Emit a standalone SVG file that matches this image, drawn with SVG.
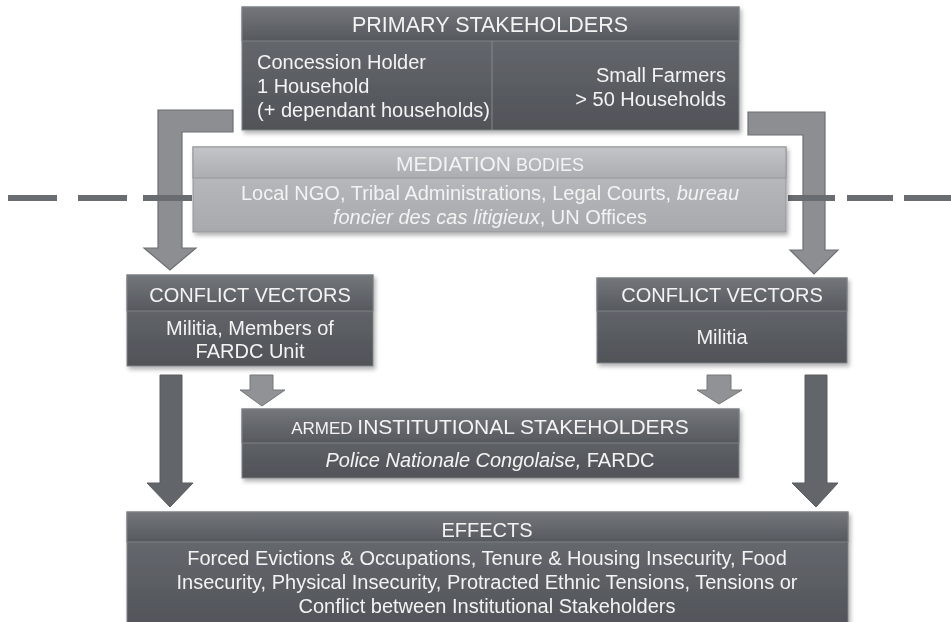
<svg xmlns="http://www.w3.org/2000/svg" width="951" height="622" viewBox="0 0 951 622">
<defs>
<linearGradient id="dh" x1="0" y1="0" x2="0" y2="1"><stop offset="0" stop-color="#73767b"/><stop offset="1" stop-color="#56595e"/></linearGradient>
<linearGradient id="db" x1="0" y1="0" x2="0" y2="1"><stop offset="0" stop-color="#6b6e73"/><stop offset="1" stop-color="#505358"/></linearGradient>
<linearGradient id="lh" x1="0" y1="0" x2="0" y2="1"><stop offset="0" stop-color="#c3c4c7"/><stop offset="1" stop-color="#abadb0"/></linearGradient>
<linearGradient id="lb" x1="0" y1="0" x2="0" y2="1"><stop offset="0" stop-color="#bdbfc2"/><stop offset="1" stop-color="#a7a9ac"/></linearGradient>
<filter id="sh" x="-5%" y="-5%" width="110%" height="120%"><feDropShadow dx="2" dy="3" stdDeviation="2" flood-color="#000" flood-opacity="0.3"/></filter>
</defs>
<style>
text{font-family:"Liberation Sans",Arial,sans-serif;fill:#f3f3f3}
.b{font-size:20px}
.h{font-size:20px}
.c{text-anchor:middle}
.dh{fill:url(#dh);stroke:#7e8186;stroke-width:1}
.db{fill:url(#db);stroke:#7e8186;stroke-width:1}
.lh{fill:url(#lh);stroke:#94969a;stroke-width:1}
.lb{fill:url(#lb);stroke:#94969a;stroke-width:1}
.bent{fill:#8c8e92;stroke:#6c6f73;stroke-width:1.2}
.small{fill:#909296;stroke:#74777b;stroke-width:1}
.big{fill:#626569;stroke:#5a5d61;stroke-width:1}
.dash{stroke:#696c71;stroke-width:6}
</style>
<g id="connectors">
<polygon class="bent" points="233,110 158,110 158,248 144,248 170,270 196,248 182,248 182,132 233,132"/>
<polygon class="bent" points="748,112 825,112 825,250 838,250 814,274 790,250 803,250 803,135 748,135"/>
<polygon class="small" points="250,375 273,375 273,390 285,390 262,406 240,390 250,390"/>
<polygon class="small" points="707,375 731,375 731,390 742,390 719,404 697,390 707,390"/>
<polygon class="big" points="160,375 182,375 182,483 193,483 170,507 147,483 160,483"/>
<polygon class="big" points="805,375 827,375 827,483 838,483 816,507 792,483 805,483"/>
</g>
<g id="divider-line">
<line class="dash" x1="8" y1="198" x2="57" y2="198"/>
<line class="dash" x1="78" y1="198" x2="127" y2="198"/>
<line class="dash" x1="143" y1="198" x2="192" y2="198"/>
<line class="dash" x1="788" y1="198" x2="835" y2="198"/>
<line class="dash" x1="847" y1="198" x2="893" y2="198"/>
<line class="dash" x1="904" y1="198" x2="951" y2="198"/>
</g>
<g id="primary" filter="url(#sh)">
<rect class="db" x="242" y="7" width="497" height="123"/>
<rect class="dh" x="242" y="7" width="497" height="34"/>
<line x1="492" y1="41" x2="492" y2="130" stroke="#85888c" stroke-width="1"/>
<text class="c" x="490" y="32" font-size="21.5">PRIMARY STAKEHOLDERS</text>
<text class="b" x="257" y="69">Concession Holder</text>
<text class="b" x="257" y="93">1 Household</text>
<text class="b" x="257" y="117">(+ dependant households)</text>
<text class="b" x="726" y="82" text-anchor="end">Small Farmers</text>
<text class="b" x="726" y="106" text-anchor="end">&gt; 50 Households</text>
</g>
<g id="mediation" filter="url(#sh)">
<rect class="lb" x="193" y="147" width="593" height="85"/>
<rect class="lh" x="193" y="147" width="593" height="31"/>
<text class="c" x="490" y="171"><tspan font-size="21">MEDIATION</tspan><tspan font-size="18"> BODIES</tspan></text>
<text class="b c" x="490" y="200">Local NGO, Tribal Administrations, Legal Courts, <tspan font-style="italic">bureau</tspan></text>
<text class="b c" x="490" y="224"><tspan font-style="italic">foncier des cas litigieux</tspan>, UN Offices</text>
</g>
<g id="cv-left" filter="url(#sh)">
<rect class="db" x="127" y="275" width="246" height="91"/>
<rect class="dh" x="127" y="275" width="246" height="36"/>
<text class="h c" x="250" y="302">CONFLICT VECTORS</text>
<text class="b c" x="250" y="335">Militia, Members of</text>
<text class="b c" x="250" y="358">FARDC Unit</text>
</g>
<g id="cv-right" filter="url(#sh)">
<rect class="db" x="597" y="278" width="250" height="85"/>
<rect class="dh" x="597" y="278" width="250" height="33"/>
<text class="h c" x="722" y="302">CONFLICT VECTORS</text>
<text class="b c" x="722" y="344">Militia</text>
</g>
<g id="armed" filter="url(#sh)">
<rect class="db" x="242" y="409" width="497" height="69"/>
<rect class="dh" x="242" y="409" width="497" height="34"/>
<text class="c" x="490" y="434"><tspan font-size="17">ARMED </tspan><tspan font-size="21">INSTITUTIONAL STAKEHOLDERS</tspan></text>
<text class="b c" x="490" y="467"><tspan font-style="italic">Police Nationale Congolaise,</tspan> FARDC</text>
</g>
<g id="effects" filter="url(#sh)">
<rect class="db" x="127" y="512" width="721" height="120"/>
<rect class="dh" x="127" y="512" width="721" height="30"/>
<text class="c" x="487" y="537" font-size="20">EFFECTS</text>
<text class="b c" x="487" y="565">Forced Evictions &amp; Occupations, Tenure &amp; Housing Insecurity, Food</text>
<text class="b c" x="487" y="589">Insecurity, Physical Insecurity, Protracted Ethnic Tensions, Tensions or</text>
<text class="b c" x="487" y="613">Conflict between Institutional Stakeholders</text>
</g>
</svg>
